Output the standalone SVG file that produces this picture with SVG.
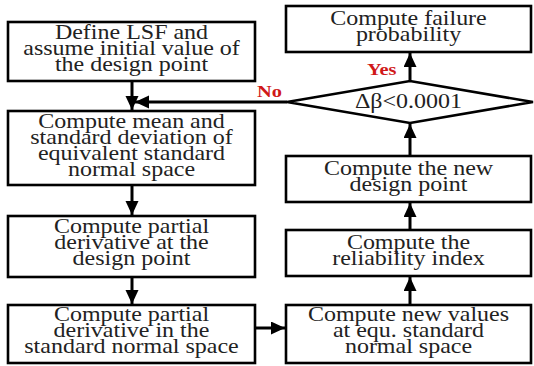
<svg xmlns="http://www.w3.org/2000/svg" width="534" height="366" viewBox="0 0 534 366">
<defs>
<style>
.box{fill:#fff;stroke:#000;stroke-width:2.6}
.t{font-family:"Liberation Serif","Times New Roman",serif;font-size:20px;fill:#222;text-anchor:middle}
.lbl{font-family:"Liberation Serif","Times New Roman",serif;font-size:17px;font-weight:bold;fill:#d01818}
.c{stroke:#000;stroke-width:3;fill:none;marker-end:url(#ah)}
</style>
<marker id="ah" markerUnits="userSpaceOnUse" markerWidth="15" markerHeight="14" refX="14" refY="6.5" orient="auto">
<path d="M0,0 L14,6.5 L0,13 z" fill="#000"/>
</marker>
</defs>
<rect width="534" height="366" fill="#fff"/>
<g id="connectors">
<line class="c" x1="132" y1="81" x2="132" y2="110"/>
<line class="c" x1="287" y1="102" x2="135" y2="102"/>
<line class="c" x1="132" y1="185" x2="132" y2="215"/>
<line class="c" x1="132" y1="277" x2="132" y2="304"/>
<line class="c" x1="255" y1="328" x2="285" y2="328"/>
<line class="c" x1="410" y1="305" x2="410" y2="277"/>
<line class="c" x1="410" y1="230" x2="410" y2="203"/>
<line class="c" x1="410" y1="156" x2="410" y2="124"/>
<line class="c" x1="410" y1="81" x2="410" y2="53"/>
<text class="lbl" transform="matrix(1.2 0 0 1 257 97)">No</text>
<text class="lbl" transform="matrix(1.2 0 0 1 367 75)">Yes</text>
</g>
<g id="n1">
<rect class="box" x="8" y="22" width="247" height="59"/>
<text class="t" transform="matrix(1.2 0 0 1 131.5 0)"><tspan x="0" y="39">Define LSF and</tspan><tspan x="0" y="55">assume initial value of</tspan><tspan x="0" y="71">the design point</tspan></text>
</g>
<g id="n2">
<rect class="box" x="8" y="111" width="247" height="74"/>
<text class="t" transform="matrix(1.2 0 0 1 131.5 0)"><tspan x="0" y="128">Compute mean and</tspan><tspan x="0" y="144">standard deviation of</tspan><tspan x="0" y="160">equivalent standard</tspan><tspan x="0" y="176">normal space</tspan></text>
</g>
<g id="n3">
<rect class="box" x="8" y="216" width="247" height="61"/>
<text class="t" transform="matrix(1.2 0 0 1 131.5 0)"><tspan x="0" y="233">Compute partial</tspan><tspan x="0" y="249">derivative at the</tspan><tspan x="0" y="265">design point</tspan></text>
</g>
<g id="n4">
<rect class="box" x="8" y="305" width="247" height="58"/>
<text class="t" transform="matrix(1.2 0 0 1 131.5 0)"><tspan x="0" y="321">Compute partial</tspan><tspan x="0" y="337">derivative in the</tspan><tspan x="0" y="353">standard normal space</tspan></text>
</g>
<g id="n5">
<rect class="box" x="286" y="305" width="245" height="58"/>
<text class="t" transform="matrix(1.2 0 0 1 408.5 0)"><tspan x="0" y="321">Compute new values</tspan><tspan x="0" y="337">at equ. standard</tspan><tspan x="0" y="353">normal space</tspan></text>
</g>
<g id="n6">
<rect class="box" x="286" y="230" width="245" height="46"/>
<text class="t" transform="matrix(1.2 0 0 1 408.5 0)"><tspan x="0" y="249">Compute the</tspan><tspan x="0" y="265">reliability index</tspan></text>
</g>
<g id="n7">
<rect class="box" x="286" y="156" width="245" height="46"/>
<text class="t" transform="matrix(1.2 0 0 1 408.5 0)"><tspan x="0" y="175">Compute the new</tspan><tspan x="0" y="191">design point</tspan></text>
</g>
<g id="n8">
<polygon class="box" points="287,102 410,81 533,102 410,123"/>
<text class="t" transform="matrix(1.2 0 0 1 408.5 0)"><tspan x="0" y="108">Δβ&lt;0.0001</tspan></text>
</g>
<g id="n9">
<rect class="box" x="286" y="6" width="245" height="46"/>
<text class="t" transform="matrix(1.2 0 0 1 408.5 0)"><tspan x="0" y="25">Compute failure</tspan><tspan x="0" y="41">probability</tspan></text>
</g>
</svg>
